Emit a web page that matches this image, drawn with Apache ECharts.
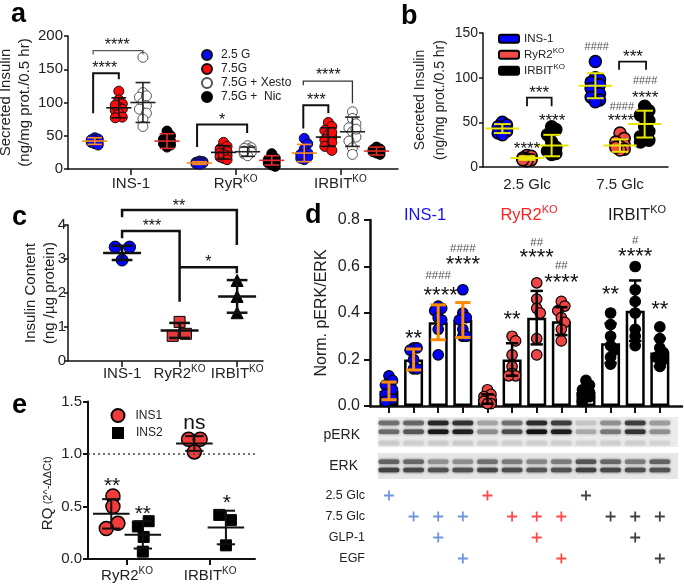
<!DOCTYPE html>
<html><head><meta charset="utf-8">
<script src="https://cdn.jsdelivr.net/npm/echarts@6/dist/echarts.min.js"></script>
<style>html,body{margin:0;padding:0;background:#fff}#c{width:685px;height:587px}</style>
</head><body><div id="c"></div>
<script>
const FONT = '"Liberation Sans", Arial, sans-serif';
const INK = '#222';

// ---------- Panel a ----------
const aGroups = ['INS-1', 'RyR', 'IRBIT'];
const aGroupSup = ['', 'KO', 'KO'];
const aCond = ['2.5 G', '7.5G', '7.5G + Xesto', '7.5G +  Nic'];
const a25G   = [[47,45,43,41,40,38,44,36], [12,11,10,9,9,8,10,7], [46,38,30,24,20,16,14,18,22]];
const a75G   = [[117,104,98,93,90,88,84,78,96,77], [40,34,30,26,24,20,18,16,22,14], [70,64,58,52,48,44,40,34,28,55]];
const aXesto = [[168,115,108,100,95,90,84,75,64,110], [35,32,30,28,26,25,23,31,20,27], [86,76,68,62,56,48,42,32,22,60]];
const aNic   = [[57,50,45,42,38,36,33,40], [23,16,12,9,6,4,14,10], [33,30,28,26,24,22,27,29]];
const a25G_mean = [42, 9, 24],    a25G_sd = [5, 2, 13];
const a75G_mean = [92, 25, 48],   a75G_sd = [15, 10, 14];
const aXesto_mean = [100, 26, 56], aXesto_sd = [30, 7, 22];
const aNic_mean = [42, 13, 27],   aNic_sd = [11, 7, 6];

// ---------- Panel b ----------
const bGroups = ['2.5 Glc', '7.5 Glc'];
const bLines = ['INS-1', 'RyR2KO', 'IRBITKO'];
const bINS1  = [[50,47,45,42,40,38,36], [118,100,98,95,92,88,82,78,75,73]];
const bRyR2  = [[13,12,10,9,8,7,8], [38,32,28,25,23,20,19,22]];
const bIRBIT = [[45,42,36,28,22,18,15,14], [68,63,58,52,45,40,34,30,28]];
const bINS1_mean = [43, 91],  bINS1_sd = [5, 14];
const bRyR2_mean = [10, 24],  bRyR2_sd = [2, 7];
const bIRBIT_mean = [24, 48], bIRBIT_sd = [12, 15];

// ---------- Panel c ----------
const cGroups = ['INS-1', 'RyR2', 'IRBIT'];
const cGroupSup = ['', 'KO', 'KO'];
const cINS1  = [[-0.12, 3.35], [0.13, 3.35], [0, 2.97]];
const cRyR2  = [[0, 1.15], [-0.12, 0.74], [0.11, 0.8]];
const cIRBIT = [[0, 2.37], [0, 1.9], [0, 1.42]];
const cMean = [3.18, 0.9, 1.9];
const cSd = [0.21, 0.22, 0.48];

// ---------- Panel e ----------
const eGroups = ['RyR2', 'IRBIT'];
const eINS1 = [[[0.02,0.6],[0.02,0.5],[0.08,0.34],[-0.06,0.29]], [[-0.07,1.14],[0.07,1.14],[0,1.02]]];
const eINS2 = [[[-0.06,0.31],[0.07,0.36],[0.01,0.21],[0,0.07]], [[-0.08,0.42],[0.06,0.37],[0,0.13]]];
const eINS1_mean = [0.43, 1.1], eINS1_sd = [0.14, 0.07];
const eINS2_mean = [0.23, 0.3], eINS2_sd = [0.13, 0.16];

// ---------- Panel d ----------
const dMean = [0.065, 0.2, 0.36, 0.37, 0.03, 0.2, 0.38, 0.365, 0.06, 0.27, 0.41, 0.23];
const dSd   = [0.038, 0.045, 0.075, 0.075, 0.02, 0.07, 0.115, 0.06, 0.025, 0.085, 0.13, 0.06];
const dPoints = [
  [0.13,0.11,0.09,0.07,0.05,0.03,0.02],
  [0.25,0.25,0.24,0.2,0.16,0.16],
  [0.43,0.42,0.41,0.38,0.37,0.33,0.22],
  [0.5,0.4,0.38,0.37,0.33,0.3,0.3],
  [0.07,0.05,0.04,0.03,0.02,0.01,0.01],
  [0.3,0.28,0.22,0.17,0.14,0.13,0.13],
  [0.53,0.46,0.42,0.4,0.29,0.22],
  [0.45,0.43,0.41,0.38,0.36,0.33,0.28],
  [0.11,0.09,0.07,0.06,0.05,0.04,0.02],
  [0.4,0.35,0.3,0.26,0.24,0.21,0.18],
  [0.6,0.5,0.45,0.4,0.33,0.3,0.26],
  [0.34,0.29,0.25,0.23,0.21,0.2,0.17]
];
const dLineNames = ['INS-1', 'RyR2', 'IRBIT'];
const pERKupper = [0.55,0.6,0.9,0.85,0.3,0.55,0.88,0.8,0.15,0.4,0.8,0.35];
const pERKlower = [0.58,0.68,0.97,0.93,0.42,0.72,1.0,0.95,0.28,0.52,0.85,0.4];
const pERKfaint = [0.12,0.1,0.12,0.12,0.1,0.1,0.1,0.1,0.08,0.1,0.1,0.08];
const ERKupper = [0.62,0.6,0.4,0.42,0.55,0.5,0.45,0.5,0.68,0.6,0.5,0.62];
const ERKlower = [0.78,0.75,0.7,0.7,0.75,0.72,0.68,0.7,0.78,0.75,0.72,0.7];
const treatRows = ['2.5 Glc', '7.5 Glc', 'GLP-1', 'EGF'];
const treat25  = [1,0,0,0,1,0,0,0,1,0,0,0];
const treat75  = [0,1,1,1,0,1,1,1,0,1,1,1];
const treatGLP = [0,0,1,0,0,0,1,0,0,0,1,0];
const treatEGF = [0,0,0,1,0,0,0,1,0,0,0,1];

// ---------- annotations (x, y, text) ----------
const aStars = [[-0.25,156,'****'],[-0.13,191,'****'],[0.87,78,'*'],[1.77,108,'***'],[1.885,146,'****']];
const aBrackets = [[-0.36,-0.115,144,84,135],[-0.36,0.115,178,172,172,'#555',1.2],[0.632,1.11,67,33,54],[1.646,1.885,96,61,84],[1.646,2.115,132,126,99,'#333',1.3]];
const bStars = [[0,23.8,'****'],[0.27,56,'****'],[0.13,87,'***'],[0.75,134.7,'####'],[1.02,67,'####'],[1.01,56,'****'],[1.27,96,'####'],[1.27,81,'****'],[1.14,127,'***']];
const bBrackets = [[0,0.265,77.6,68,68],[0.99,1.28,118,109,109]];
const cStars = [[0.99,4.66,'**'],[0.52,4.05,'***'],[1.5,3.0,'*']];
const cBrackets = [[0,1.995,4.44,4.23,3.41],[0,1,3.82,3.61,1.74],[1,1.995,2.76,2.76,2.58]];
const eStars = [[-0.18,0.74,'**'],[0.19,0.47,'**'],[0.81,1.29,'ns'],[1.2,0.58,'*']];
const dStars = [[1,0.31,'**'],[2,0.56,'####'],[2.1,0.495,'****'],[3,0.675,'####'],[3,0.627,'****'],[5,0.39,'**'],
  [6,0.70,'##'],[6,0.66,'****'],[7,0.605,'##'],[7,0.55,'****'],[9,0.5,'**'],[10,0.71,'#'],[10,0.665,'****'],[11,0.435,'**']];

// ---------- helpers ----------
function swarm(vals, cx, pxX, pxY, diam, maxOff) {
  const order = vals.map((v, i) => i).sort((a, b) => vals[b] - vals[a]);
  const placed = [], out = new Array(vals.length);
  const step = diam * 0.35;
  const cands = [0];
  for (let k = 1; k * step <= maxOff + 0.01; k++) cands.push(k * step, -k * step);
  for (const i of order) {
    const y = vals[i] * pxY;
    let best = 0, bestScore = -1;
    for (const c of cands) {
      let md = 1e9;
      for (const p of placed) { const dx = c - p[0], dy = y - p[1]; md = Math.min(md, Math.sqrt(dx*dx + dy*dy)); }
      if (md >= diam * 0.62) { best = c; bestScore = md; break; }
      if (md > bestScore) { bestScore = md; best = c; }
    }
    placed.push([best, y]);
    out[i] = [cx + best / pxX, vals[i]];
  }
  return out;
}
function sup(base, s) { return s ? '{n|' + base + '}{s|' + s + '}' : '{n|' + base + '}'; }
function rich(fs, color) {
  const c = color || INK;
  return {
    n: {fontSize: fs, fontFamily: FONT, color: c, fill: c, lineHeight: fs + 4},
    s: {fontSize: Math.round(fs * 0.68), fontFamily: FONT, color: c, fill: c, lineHeight: Math.round(fs * 0.5), verticalAlign: 'top'}
  };
}
function errSeries(xi, yi, data, o) {
  return {
    type: 'custom', xAxisIndex: xi, yAxisIndex: yi, clip: false, silent: true, z: o.z || 6,
    data: data,
    renderItem(params, api) {
      const x = api.value(0), m = api.value(1), s = api.value(2);
      const pm = api.coord([x, m]), pt = api.coord([x, m + s]), pb = api.coord([x, m - s]);
      const unit = api.size([1, 0])[0];
      const cw = o.cw * unit / 2, mw = o.mw * unit / 2;
      const st = {stroke: o.color, lineWidth: o.lw, fill: null};
      const ch = [
        {type: 'line', shape: {x1: pt[0], y1: pt[1], x2: pb[0], y2: pb[1]}, style: st},
        {type: 'line', shape: {x1: pt[0] - cw, y1: pt[1], x2: pt[0] + cw, y2: pt[1]}, style: st},
        {type: 'line', shape: {x1: pb[0] - cw, y1: pb[1], x2: pb[0] + cw, y2: pb[1]}, style: st}
      ];
      if (mw > 0) ch.push({type: 'line', shape: {x1: pm[0] - mw, y1: pm[1], x2: pm[0] + mw, y2: pm[1]}, style: st});
      return {type: 'group', children: ch};
    }
  };
}
function brSeries(xi, yi, list, color, lw) {
  return {
    type: 'custom', xAxisIndex: xi, yAxisIndex: yi, clip: false, silent: true, z: 15,
    data: list.map(d => [d[0], d[2]]),
    renderItem(params, api) {
      const d = list[params.dataIndex];
      const pts = [api.coord([d[0], d[3]]), api.coord([d[0], d[2]]), api.coord([d[1], d[2]]), api.coord([d[1], d[4]])];
      return {type: 'polyline', shape: {points: pts}, style: {stroke: d[5] || color, lineWidth: d[6] || lw, fill: null}};
    }
  };
}
function annSeries(xi, yi, list, fs, hashFs) {
  return {
    type: 'custom', xAxisIndex: xi, yAxisIndex: yi, clip: false, silent: true, z: 20,
    data: list.map(d => [d[0], d[1]]),
    renderItem(params, api) {
      const d = list[params.dataIndex];
      const p = api.coord([api.value(0), api.value(1)]);
      const t = d[2];
      const isHash = t.indexOf('#') >= 0;
      const size = isHash ? hashFs : fs;
      let dy = 0;
      if (/^\*+$/.test(t)) dy = 0.23 * size;
      return {type: 'text', x: p[0], y: p[1] + dy,
        style: {text: t, font: size + 'px ' + FONT, fill: isHash ? '#555' : '#111',
          align: 'center', verticalAlign: 'middle', textAlign: 'center', textVerticalAlign: 'middle'}};
    }
  };
}
function scat(xi, yi, name, data, sym, size, fill, border, bw, z) {
  return {type: 'scatter', name: name, xAxisIndex: xi, yAxisIndex: yi, data: data, symbol: sym, symbolSize: size,
    itemStyle: {color: fill, borderColor: border, borderWidth: bw, opacity: 1}, z: z || 4, silent: true};
}
function axisBase(gi, o) {
  return Object.assign({
    gridIndex: gi, type: 'value', splitLine: {show: false},
    axisLine: {show: true, onZero: false, lineStyle: {color: '#111', width: 1.5}},
    axisTick: {show: true, inside: false, length: 5, lineStyle: {color: '#111', width: 1.5}},
    axisLabel: {color: INK, fontFamily: FONT, fontSize: 15, margin: 5},
    nameTextStyle: {color: INK, fontFamily: FONT}
  }, o);
}

// ---------- series ----------
const series = [];
// panel a
const aOff = [-0.345, -0.115, 0.115, 0.345];
const aVals = [a25G, a75G, aXesto, aNic];
const aMeans = [a25G_mean, a75G_mean, aXesto_mean, aNic_mean];
const aSds = [a25G_sd, a75G_sd, aXesto_sd, aNic_sd];
const aFill = ['#0a0aff', '#ff0a0a', '#ffffff', '#000000'];
const aBorder = ['#111', '#111', '#555', '#000'];
const aErrCol = ['#ff8a1c', '#111', '#222', '#e52b2b'];
for (let c = 0; c < 4; c++) {
  const data = [];
  aVals[c].forEach((vals, g) => data.push(...swarm(vals, g + aOff[c], 104.5, 133 / 200, 10, 6.5)));
  series.push(scat(0, 0, aCond[c], data, 'circle', 10, aFill[c], aBorder[c], 1, 3));
  series.push(errSeries(0, 0, aMeans[c].map((m, g) => [g + aOff[c], m, aSds[c][g]]),
    {color: aErrCol[c], lw: 1.6, mw: 0.24, cw: 0.14}));
}
series.push(brSeries(0, 0, aBrackets, '#111', 2));
series.push(annSeries(0, 0, aStars, 16, 11));

// panel b
const bOff = [-0.265, 0, 0.265];
const bVals = [bINS1, bRyR2, bIRBIT];
const bMeans = [bINS1_mean, bRyR2_mean, bIRBIT_mean];
const bSds = [bINS1_sd, bRyR2_sd, bIRBIT_sd];
const bFill = ['#0000ff', '#f24a47', '#000000'];
for (let k = 0; k < 3; k++) {
  const data = [];
  bVals[k].forEach((vals, g) => data.push(...swarm(vals, g + bOff[k], 93, 134 / 150, 12, 7)));
  series.push(scat(1, 1, bLines[k], data, 'circle', 12, bFill[k], '#000', 1.5, 3));
  series.push(errSeries(1, 1, bMeans[k].map((m, g) => [g + bOff[k], m, bSds[k][g]]),
    {color: '#e6e600', lw: 2, mw: 0.36, cw: 0.18}));
}
series.push(brSeries(1, 1, bBrackets, '#111', 1.8));
series.push(annSeries(1, 1, bStars, 17, 11));

// panel c
series.push(scat(2, 2, 'c1', cINS1.map(p => [0 + p[0], p[1]]), 'circle', 12, '#0000ff', '#000', 1, 3));
series.push(scat(2, 2, 'c2', cRyR2.map(p => [1 + p[0], p[1]]), 'rect', 11, '#e63c3c', '#000', 1, 3));
series.push(scat(2, 2, 'c3', cIRBIT.map(p => [2 + p[0], p[1]]), 'triangle', 12, '#000', '#000', 1, 3));
series.push(errSeries(2, 2, cMean.map((m, g) => [g, m, cSd[g]]), {color: '#111', lw: 2.5, mw: 0.66, cw: 0.36}));
series.push(brSeries(2, 2, cBrackets, '#111', 2.5));
series.push(annSeries(2, 2, cStars, 16, 11));

// panel e
const eOff = [-0.19, 0.19];
series.push(Object.assign(scat(3, 3, 'INS1', eINS1.flatMap((grp, g) => grp.map(p => [g + eOff[0] + p[0], p[1]])), 'circle', 14, '#f23c3c', '#000', 1.5, 3), {
  markLine: {silent: true, symbol: ['none', 'none'], label: {show: false},
    lineStyle: {color: '#444', type: [2, 3], width: 1.5}, data: [{yAxis: 1}]}
}));
series.push(scat(3, 3, 'INS2', eINS2.flatMap((grp, g) => grp.map(p => [g + eOff[1] + p[0], p[1]])), 'rect', 11, '#000', '#000', 1, 3));
series.push(errSeries(3, 3, eINS1_mean.map((m, g) => [g + eOff[0], m, eINS1_sd[g]]), {color: '#111', lw: 2, mw: 0.44, cw: 0.22}));
series.push(errSeries(3, 3, eINS2_mean.map((m, g) => [g + eOff[1], m, eINS2_sd[g]]), {color: '#111', lw: 2, mw: 0.44, cw: 0.22}));
series.push(annSeries(3, 3, eStars, 21, 11));

// panel d
series.push({type: 'bar', xAxisIndex: 4, yAxisIndex: 4, barWidth: 19, silent: true, z: 2,
  data: dMean.map((m, i) => [i, m]),
  itemStyle: {color: '#fff', borderColor: '#000', borderWidth: 2.5}});
const dFill = ['#0000ff', '#f04545', '#000000'];
const dErr = [{color: '#ff8c00', lw: 3, mw: 0, cw: 0.62}, {color: '#000', lw: 2.5, mw: 0, cw: 0.5}, {color: '#000', lw: 2.5, mw: 0, cw: 0.5}];
for (let g = 0; g < 3; g++) {
  const data = [];
  for (let l = g * 4; l < g * 4 + 4; l++) data.push(...swarm(dPoints[l], l, 24.6, 232.5, 10, 6));
  series.push(scat(4, 4, 'd' + dLineNames[g], data, 'circle', 10.5, dFill[g], '#000', 1.2, 3));
  const ed = [];
  for (let l = g * 4; l < g * 4 + 4; l++) ed.push([l, dMean[l], dSd[l]]);
  series.push(errSeries(4, 4, ed, Object.assign({z: 7}, dErr[g])));
}
series.push(annSeries(4, 4, dStars, 22, 11.5));

// blot
function gray(v) { const g = Math.round(228 - 210 * v); return 'rgb(' + g + ',' + g + ',' + g + ')'; }
series.push({
  type: 'custom', xAxisIndex: 5, yAxisIndex: 5, silent: true, z: 3, clip: false,
  data: pERKupper.map((v, i) => [i, 0.5]),
  renderItem(params, api) {
    const l = params.dataIndex;
    const cs = params.coordSys;
    const cx = api.coord([l, 0])[0];
    const w = api.size([1, 0])[0] * 0.84;
    const top = cs.y;
    const bands = [[pERKupper[l], 9], [pERKlower[l], 17.7], [pERKfaint[l], 29], [ERKupper[l], 47.7], [ERKlower[l], 56]];
    return {type: 'group', children: bands.map(b => ({
      type: 'rect', shape: {x: cx - w / 2, y: top + b[1] - 2.3, width: w, height: 4.6, r: 2},
      style: {fill: gray(b[0]), shadowBlur: 3, shadowColor: gray(b[0])}
    }))};
  }
});

// treatment table
const treatMatrix = [treat25, treat75, treatGLP, treatEGF];
const plusCol = ['#4a7bd6', '#ff1c1c', '#111'];
const tData = [];
treatMatrix.forEach((row, r) => row.forEach((on, l) => {
  if (on) tData.push({value: [l, r], itemStyle: {color: plusCol[l < 4 ? 0 : l < 8 ? 1 : 2]}});
}));
series.push({type: 'scatter', xAxisIndex: 6, yAxisIndex: 6, silent: true,
  symbol: 'path://M3.7,0H5.3V3.7H9V5.3H5.3V9H3.7V5.3H0V3.7H3.7Z', symbolSize: 10, data: tData});

// ---------- axes ----------
const dRange = {min: -0.77, max: 11.9};
const lanes = [0,1,2,3,4,5,6,7,8,9,10,11];
function gText(x, y, text, richStyle) {
  return {type: 'text', x: x, y: y, z: 50, style: {text: text, rich: richStyle, align: 'center', verticalAlign: 'middle', textAlign: 'center', textVerticalAlign: 'middle'}};
}
function letter(x, y, t) {
  return {type: 'text', x: x, y: y, z: 50, style: {text: t, font: 'bold 27px ' + FONT, fill: '#000', verticalAlign: 'middle', textVerticalAlign: 'middle'}};
}
const option = {
  animation: false,
  backgroundColor: '#fff',
  textStyle: {fontFamily: FONT},
  grid: [
    {left: 68, top: 36, width: 330, height: 133, outerBoundsMode: 'none'},
    {left: 483, top: 33, width: 185, height: 134, outerBoundsMode: 'none'},
    {left: 68, top: 225, width: 195, height: 136, outerBoundsMode: 'none'},
    {left: 88, top: 401.5, width: 167, height: 157.5, outerBoundsMode: 'none'},
    {left: 370, top: 220, width: 312, height: 186, outerBoundsMode: 'none'},
    {left: 370, top: 414, width: 312, height: 66, outerBoundsMode: 'none'},
    {left: 370, top: 485, width: 312, height: 84, outerBoundsMode: 'none'}
  ],
  xAxis: [
    axisBase(0, {min: -0.6, max: 2.55,
      axisTick: {show: true, length: 6, customValues: [0, 1, 2], lineStyle: {color: '#111', width: 1.5}},
      axisLabel: {customValues: [0, 1, 2], margin: 5, formatter: v => sup(aGroups[Math.round(v)], aGroupSup[Math.round(v)]), rich: rich(15)}}),
    axisBase(1, {min: -0.473, max: 1.516, axisTick: {show: false},
      axisLabel: {customValues: [0, 1], margin: 8, formatter: v => sup(bGroups[Math.round(v)], ''), rich: rich(15)}}),
    axisBase(2, {min: -0.94, max: 2.45,
      axisTick: {show: true, length: 6, customValues: [0, 1, 2], lineStyle: {color: '#111', width: 1.5}},
      axisLabel: {customValues: [0, 1, 2], margin: 3, formatter: v => sup(cGroups[Math.round(v)], cGroupSup[Math.round(v)]), rich: rich(15)}}),
    axisBase(3, {min: -0.47, max: 1.54,
      axisLine: {show: true, onZero: false, lineStyle: {color: '#111', width: 2}},
      axisTick: {show: true, length: 6, customValues: [0, 1], lineStyle: {color: '#111', width: 2}},
      axisLabel: {customValues: [0, 1], margin: 7, formatter: v => sup(eGroups[Math.round(v)], 'KO'), rich: rich(15)}}),
    axisBase(4, Object.assign({}, dRange, {
      axisLine: {show: true, onZero: false, lineStyle: {color: '#111', width: 2.5}},
      axisTick: {show: true, length: 7, customValues: lanes, lineStyle: {color: '#111', width: 2}},
      axisLabel: {show: false}})),
    Object.assign({gridIndex: 5, type: 'value', show: false}, dRange),
    Object.assign({gridIndex: 6, type: 'value', show: false}, dRange)
  ],
  yAxis: [
    axisBase(0, {min: 0, max: 200, interval: 50, axisTick: {show: true, length: 4, lineStyle: {color: '#111', width: 1.5}},
      axisLabel: {color: INK, fontFamily: FONT, fontSize: 15, margin: 5},
      name: 'Secreted Insulin\n(ng/mg prot./0.5 hr)', nameLocation: 'middle', nameGap: 23, nameRotate: 90,
      nameTextStyle: {color: INK, fontFamily: FONT, fontSize: 15, lineHeight: 19}}),
    axisBase(1, {min: 0, max: 150, interval: 50, axisTick: {show: true, length: 4, lineStyle: {color: '#111', width: 1.5}},
      axisLabel: {color: INK, fontFamily: FONT, fontSize: 14, margin: 5},
      name: 'Secreted Insulin\n(ng/mg prot./0.5 hr)', nameLocation: 'middle', nameGap: 33, nameRotate: 90,
      nameTextStyle: {color: INK, fontFamily: FONT, fontSize: 14, lineHeight: 20}}),
    axisBase(2, {min: 0, max: 4, interval: 1, axisTick: {show: true, length: 4, lineStyle: {color: '#111', width: 1.5}},
      axisLabel: {color: INK, fontFamily: FONT, fontSize: 15, margin: 2},
      name: 'Insulin Content\n(ng /µg protein)', nameLocation: 'middle', nameGap: 9, nameRotate: 90, nameMoveOverlap: false,
      nameTextStyle: {color: INK, fontFamily: FONT, fontSize: 15, lineHeight: 19}}),
    axisBase(3, {min: 0, max: 1.5, interval: 0.5,
      axisLine: {show: true, onZero: false, lineStyle: {color: '#111', width: 2}},
      axisTick: {show: true, length: 5, lineStyle: {color: '#111', width: 2}},
      axisLabel: {color: INK, fontFamily: FONT, fontSize: 15, margin: 6, formatter: v => v.toFixed(1)},
      name: '{a|RQ} {b|(2^-ΔΔCt)}', nameLocation: 'middle', nameGap: 33, nameRotate: 90,
      nameTextStyle: {color: INK, fontFamily: FONT, padding: [0, 26, 0, 0],
        rich: {a: {fontSize: 15, fontFamily: FONT, color: INK}, b: {fontSize: 11, fontFamily: FONT, color: INK}}}}),
    axisBase(4, {min: 0, max: 0.8, interval: 0.2,
      axisLine: {show: true, onZero: false, lineStyle: {color: '#111', width: 2.5}},
      axisTick: {show: true, length: 6, lineStyle: {color: '#111', width: 2}},
      axisLabel: {color: INK, fontFamily: FONT, fontSize: 16, margin: 10, formatter: v => v.toFixed(1)},
      name: 'Norm. pERK/ERK', nameLocation: 'middle', nameGap: 40, nameRotate: 90,
      nameTextStyle: {color: INK, fontFamily: FONT, fontSize: 16}}),
    {gridIndex: 5, type: 'value', min: 0, max: 1, show: false},
    {gridIndex: 6, type: 'category', data: treatRows, inverse: true,
      axisLine: {show: false}, axisTick: {show: false}, splitLine: {show: false},
      axisLabel: {color: INK, fontFamily: FONT, fontSize: 12.5, margin: 5}}
  ],
  legend: [
    {orient: 'vertical', left: 196, top: 43, itemWidth: 10, itemHeight: 10, itemGap: 0,
      data: aCond.map(n => ({name: n, icon: 'circle'})), selectedMode: false,
      textStyle: {fontFamily: FONT, fontSize: 12, color: INK, lineHeight: 14, padding: [0, 0, 0, 4]}},
    {orient: 'vertical', left: 493, top: 26, itemWidth: 20, itemHeight: 8, itemGap: 0.5,
      data: bLines.map(n => ({name: n, icon: 'roundRect'})), selectedMode: false,
      formatter: n => n === 'RyR2KO' ? sup('RyR2', 'KO') : n === 'IRBITKO' ? sup('IRBIT', 'KO') : sup(n, ''),
      textStyle: {fontFamily: FONT, fontSize: 11.5, color: INK, lineHeight: 15, rich: rich(11.5)}},
    {orient: 'vertical', left: 105.5, top: 403, itemWidth: 13, itemHeight: 13, itemGap: 0,
      data: [{name: 'INS1', icon: 'circle'}], selectedMode: false,
      textStyle: {fontFamily: FONT, fontSize: 12, color: INK, lineHeight: 14, padding: [0, 0, 0, 6]}},
    {orient: 'vertical', left: 107, top: 421, itemWidth: 10, itemHeight: 10, itemGap: 0,
      data: [{name: 'INS2', icon: 'rect'}], selectedMode: false,
      textStyle: {fontFamily: FONT, fontSize: 12, color: INK, lineHeight: 14, padding: [0, 0, 0, 8]}}
  ],
  graphic: [
    letter(11, 15, 'a'), letter(401, 17, 'b'), letter(12, 218, 'c'), letter(305, 216, 'd'), letter(12, 406, 'e'),
    gText(425, 215, sup('INS-1', ''), rich(16.5, '#1414f0')),
    gText(529, 215, sup('RyR2', 'KO'), rich(16.5, '#ff2020')),
    gText(637, 215, sup('IRBIT', 'KO'), rich(16.5, '#1a1a1a')),
    {type: 'rect', z: 0, shape: {x: 378, y: 417, width: 300, height: 30}, style: {fill: '#ebebeb'}},
    {type: 'rect', z: 0, shape: {x: 378, y: 453, width: 300, height: 26}, style: {fill: '#e6e6e6'}},
    {type: 'text', x: 360, y: 435, z: 50, style: {text: 'pERK', font: '14px ' + FONT, fill: INK, align: 'right', verticalAlign: 'middle', textAlign: 'right', textVerticalAlign: 'middle'}},
    {type: 'text', x: 358, y: 466, z: 50, style: {text: 'ERK', font: '14px ' + FONT, fill: INK, align: 'right', verticalAlign: 'middle', textAlign: 'right', textVerticalAlign: 'middle'}}
  ],
  series: series
};
const chart = echarts.init(document.getElementById('c'), null, {renderer: 'canvas', width: 685, height: 587});
chart.setOption(option);
</script></body></html>
